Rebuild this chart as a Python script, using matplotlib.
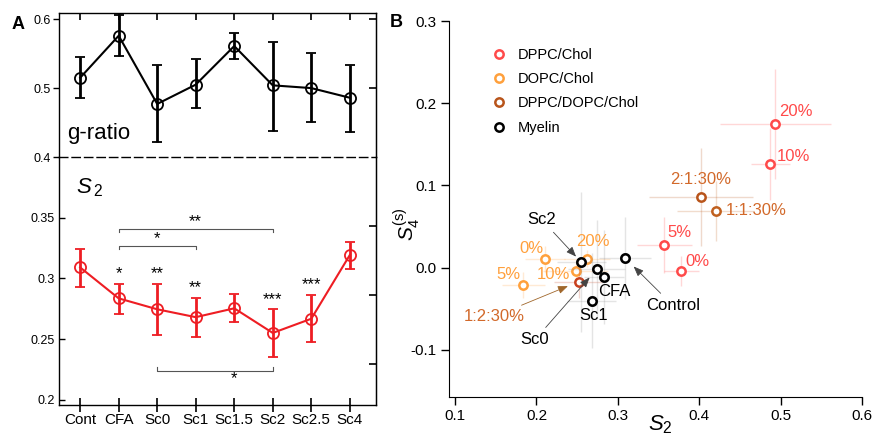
import numpy as np
import matplotlib
matplotlib.use('Agg')
from matplotlib import pyplot as plt

plt.rcParams['font.family'] = ['Liberation Sans', 'DejaVu Sans']
plt.rcParams['mathtext.fontset'] = 'custom'
plt.rcParams['mathtext.rm'] = 'Liberation Sans'
plt.rcParams['mathtext.it'] = 'Liberation Sans:italic'

# ---- panel A data ----
groups = ['Cont', 'CFA', 'Sc0', 'Sc1', 'Sc1.5', 'Sc2', 'Sc2.5', 'Sc4']
gratio = [0.515, 0.576, 0.477, 0.505, 0.561, 0.504, 0.500, 0.486]
g_lo = [0.486, 0.547, 0.422, 0.471, 0.542, 0.438, 0.451, 0.437]
g_hi = [0.545, 0.606, 0.533, 0.542, 0.580, 0.567, 0.551, 0.533]
s2 = [0.309, 0.2835, 0.2745, 0.268, 0.2753, 0.255, 0.2667, 0.3192]
s2_lo = [0.293, 0.271, 0.2535, 0.2519, 0.264, 0.2355, 0.2475, 0.3074]
s2_hi = [0.324, 0.295, 0.295, 0.2838, 0.287, 0.275, 0.2862, 0.3297]
stars = ['', '*', '**', '**', '', '***', '***', '']
star_y = [0, 0.304, 0.304, 0.2925, 0, 0.2828, 0.2952, 0]
# brackets: (from, to, level, text)
brackets = [(1, 5, 0.341, '**'), (1, 3, 0.327, '*'), (2, 5, 0.224, '*')]

# ---- panel B data ----
dppc_lab = ['0%', '5%', '10%', '20%']
dppc_x = [0.378, 0.357, 0.487, 0.493]
dppc_y = [-0.004, 0.027, 0.126, 0.175]
dppc_xe = [0.022, 0.034, 0.024, 0.068]
dppc_ye = [0.018, 0.034, 0.044, 0.067]

dopc_lab = ['0%', '5%', '10%', '20%']
dopc_x = [0.2105, 0.184, 0.248, 0.262]
dopc_y = [0.0106, -0.021, -0.004, 0.011]
dopc_xe = [0.025, 0.026, 0.040, 0.028]
dopc_ye = [0.016, 0.016, 0.012, 0.010]

mix_lab = ['2:1:30%', '1:1:30%', '1:2:30%']
mix_x = [0.402, 0.420, 0.252]
mix_y = [0.086, 0.069, -0.017]
mix_xe = [0.064, 0.047, 0.030]
mix_ye = [0.060, 0.037, 0.020]

mye_lab = ['Control', 'CFA', 'Sc0', 'Sc1', 'Sc2']
mye_x = [0.309, 0.283, 0.274, 0.268, 0.255]
mye_y = [0.0115, -0.011, -0.002, -0.040, 0.0066]
mye_xe = [0.032, 0.025, 0.035, 0.030, 0.030]
mye_ye = [0.050, 0.057, 0.060, 0.058, 0.085]

red = '#ff4a4a'
orange = '#ffa03c'
brown = ['#b8541a', '#c0601e', '#c8401e']
brown_txt = '#d2692a'

fig = plt.figure(figsize=(8.75, 4.37), dpi=100)

# ================= panel A =================
axs = fig.add_axes([0.0674, 0.0732, 0.3623, 0.5675])
axg = fig.add_axes([0.0674, 0.6407, 0.3623, 0.3296])
axg.patch.set_visible(False)
idx = np.arange(len(groups))

g = np.array(gratio)
axg.errorbar(idx, g, yerr=[g - np.array(g_lo), np.array(g_hi) - g], fmt='-o',
             color='black', mfc='none', ms=8, mew=1.3, lw=1.5,
             elinewidth=2, capsize=3.5, capthick=2)
axg.set_xlim(-0.55, 7.68)
axg.set_ylim(0.4, 0.609)
axg.set_yticks([0.4, 0.5, 0.6])
axg.set_yticklabels(['0.4', '0.5', '0.6'], fontsize=9)
axg.set_xticks(idx)
axg.tick_params(axis='x', bottom=False, labelbottom=False, top=True,
                direction='in', length=5, width=1.2)
axg.tick_params(axis='y', direction='out', length=4, width=1, pad=2)
axg.spines['bottom'].set_linestyle((0, (6, 3)))
axg.spines['bottom'].set_zorder(5)
for sp in axg.spines.values():
    sp.set_linewidth(1.0)
axg.text(-0.345, 0.4257, 'g-ratio', va='baseline', fontsize=16)

# inward ticks on the right, same scale as g-ratio
rg = axg.secondary_yaxis('right')
rg.set_yticks([0.5, 0.6])
rg.tick_params(axis='y', which='both', direction='in', length=5, width=1.2,
               labelright=False, right=True, left=False)

s = np.array(s2)
red_a = '#ee1d23'
axs.errorbar(idx, s, yerr=[s - np.array(s2_lo), np.array(s2_hi) - s], fmt='-o',
             color=red_a, mfc='none', ms=8, mew=1.3, lw=1.5,
             elinewidth=2, capsize=3.5, capthick=2)
axs.set_xlim(-0.55, 7.68)
axs.set_ylim(0.1956, 0.4)
axs.set_yticks([0.2, 0.25, 0.3, 0.35])
axs.set_yticklabels(['0.2', '0.25', '0.3', '0.35'], fontsize=9)
axs.set_xticks(idx)
axs.set_xticklabels(groups, fontsize=11)
axs.tick_params(axis='x', direction='inout', length=10, width=1.2, pad=1)
axs.tick_params(axis='y', direction='in', length=4, width=1, pad=3)
axs.spines['top'].set_visible(False)
for sp in axs.spines.values():
    sp.set_linewidth(1.0)
axs.text(-0.1, 0.370, r'$\mathit{S}_{\,\mathrm{2}}$', va='baseline', fontsize=16)

# right-side ticks of the lower part continue the g-ratio scale
k_s = (0.4 - 0.0406) / (0.4 - 0.1956)
rs = axs.secondary_yaxis('right', functions=(lambda v: 0.4 - (0.4 - v) * k_s,
                                             lambda v: 0.4 - (0.4 - v) / k_s))
rs.set_yticks([0.1, 0.2, 0.3])
rs.tick_params(axis='y', which='both', direction='in', length=5, width=1.2,
               labelright=False, right=True, left=False)
for ax2 in (rg, rs):
    for t in ax2.yaxis.get_major_ticks():
        t.tick2line.set_marker(matplotlib.lines.TICKLEFT)

for i in idx:
    if stars[i]:
        axs.text(i, star_y[i], stars[i], ha='center', va='center', fontsize=12)
for a, b, lev, txt in brackets:
    tk = -0.003 if lev > 0.3 else 0.003
    axs.plot([a, a, b, b], [lev + tk, lev, lev, lev + tk], color='#555555', lw=0.8)
    if lev > 0.3:
        axs.text((a + b) / 2, lev + 0.0055, txt, ha='center', va='center', fontsize=12)
    else:
        axs.text((a + b) / 2 + 0.5, lev - 0.0065, txt, ha='center', va='center', fontsize=12)

fig.text(0.0134, 0.944, 'A', va='center', fontsize=13, weight='bold')
fig.text(0.4457, 0.9485, 'B', va='center', fontsize=13, weight='bold')

# ================= panel B =================
axb = fig.add_axes([0.5135, 0.0922, 0.472, 0.8597])
axb.set_xlim(0.093, 0.6)
axb.set_ylim(-0.157, 0.3)
axb.spines['top'].set_visible(False)
axb.spines['right'].set_visible(False)
axb.set_xticks([0.1, 0.2, 0.3, 0.4, 0.5, 0.6])
axb.set_xticklabels(['0.1', '0.2', '0.3', '0.4', '0.5', '0.6'], fontsize=11)
axb.set_yticks([-0.1, 0.0, 0.1, 0.2, 0.3])
axb.set_yticklabels(['-0.1', '0.0', '0.1', '0.2', '0.3'], fontsize=11)
axb.tick_params(direction='out', length=5.5, width=1)

def series(xs, ys, xe, ye, col, label):
    axb.errorbar(xs, ys, xerr=xe, yerr=ye, fmt='none', ecolor=col, alpha=0.22,
                 elinewidth=1, capsize=0)
    axb.plot(xs, ys, 'o', mfc='white', mec=col, ms=6, mew=1.8, label=label,
             ls='none')

series(dppc_x, dppc_y, dppc_xe, dppc_ye, red, 'DPPC/Chol')
series(dopc_x, dopc_y, dopc_xe, dopc_ye, orange, 'DOPC/Chol')
for k in range(len(mix_x)):
    series([mix_x[k]], [mix_y[k]], [mix_xe[k]], [mix_ye[k]], brown[k],
           'DPPC/DOPC/Chol' if k == 0 else None)
series(mye_x, mye_y, mye_xe, mye_ye, '#888888', None)
axb.plot(mye_x, mye_y, 'o', mfc='white', mec='black', ms=6, mew=1.8,
         label='Myelin', ls='none')

# point labels
dppc_off = [(3, 6.5), (2, 9.5), (5, 5.5), (3, 9)]
for k, lab in enumerate(dppc_lab):
    axb.annotate(lab, (dppc_x[k], dppc_y[k]), xytext=dppc_off[k],
                 textcoords='offset points', color=red, fontsize=12,
                 ha='left', va='center')
dopc_off = [(-1, 7.7, 'right'), (-2.4, 7.2, 'right'), (-3.6, -2.5, 'right'),
            (4, 12.5, 'center')]
for k, lab in enumerate(dopc_lab):
    dx, dy, ha = dopc_off[k]
    axb.annotate(lab, (dopc_x[k], dopc_y[k]), xytext=(dx, dy),
                 textcoords='offset points', color=orange, fontsize=12,
                 ha=ha, va='center')
axb.annotate(mix_lab[0], (mix_x[0], mix_y[0]), xytext=(0, 12.2),
             textcoords='offset points', color=brown_txt, fontsize=12,
             ha='center', va='center')
axb.annotate(mix_lab[1], (mix_x[1], mix_y[1]), xytext=(7, 0),
             textcoords='offset points', color=brown_txt, fontsize=12,
             ha='left', va='center')
axb.annotate(mix_lab[2], (mix_x[2], mix_y[2]), xytext=(0.1479, -0.0595),
             color=brown_txt, fontsize=12, ha='center', va='center',
             arrowprops=dict(arrowstyle='-|>,head_length=0.5,head_width=0.2',
                             color='#a0662a', lw=0.6, shrinkB=8.5))

# myelin labels: (text x, text y, arrow shrink or None)
mye_txt = [(0.3676, -0.0461, 8.5), (0.296, -0.0295, None), (0.198, -0.0878, 7.8),
           (0.2703, -0.0583, None), (0.2068, 0.058, 5.5)]
for k, lab in enumerate(mye_lab):
    tx, ty, shr = mye_txt[k]
    if shr is None:
        axb.text(tx, ty, lab, fontsize=12, ha='center', va='center')
    else:
        axb.annotate(lab, (mye_x[k], mye_y[k]), xytext=(tx, ty), fontsize=12,
                     ha='center', va='center',
                     arrowprops=dict(arrowstyle='-|>,head_length=0.5,head_width=0.2',
                                     color='#444444', lw=0.6, shrinkB=shr))

axb.legend(loc='upper left', bbox_to_anchor=(0.102, 0.928), frameon=False,
           borderpad=0, handlelength=1.0, handletextpad=0.8, labelspacing=0.7,
           fontsize=10.5, numpoints=1, borderaxespad=0)

axb.set_xlabel(r'$\mathit{S}_{\mathrm{2}}$', fontsize=16)
axb.xaxis.set_label_coords(0.51, -0.045)
axb.set_ylabel(r'$\mathit{S}_{\mathrm{4}}^{\mathrm{(s)}}$', fontsize=15)
axb.yaxis.set_label_coords(-0.065, 0.46)

fig.savefig('out.png', dpi=100)
